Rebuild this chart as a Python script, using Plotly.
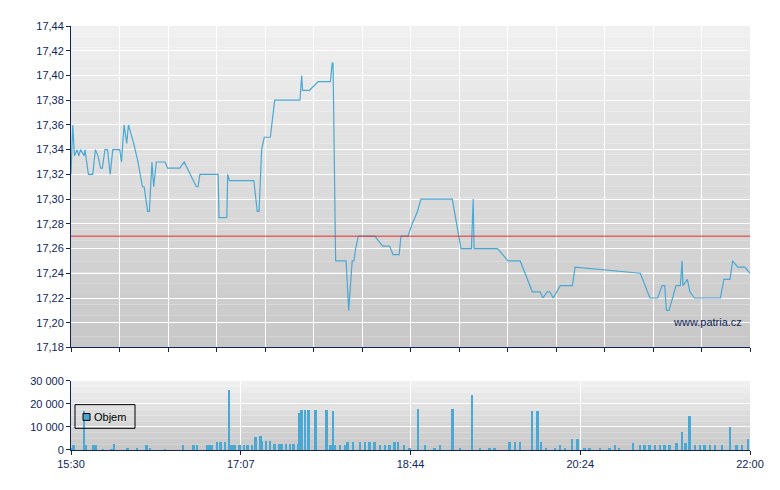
import plotly.graph_objects as go

# price: minutes after 15:30, price
p_min = [0,1,2,3.5,4.5,5.5,7.5,8,10,12.5,14,15.5,17,18,19.5,21,22.5,24,28,29,30.5,32,33,36,38.5,41,42,43,44,45,46.5,47.5,49,54,55.5,62.5,65,72,73,74,84.5,85,89.5,90,91,105,107,108,109.5,111,114.5,117,131.5,132.5,133,137,142,149,150,150.5,152,158,159.5,161.5,162.5,163.5,165,174.5,179,183,185,188.5,189.5,193.5,196,199,201,219,224,230,231,231.5,245,251,258,265,269.5,271,273.5,275,277,281,288,289.5,327,332.5,337,339.5,341,342,343.5,347.5,350,351,351.5,354,355.5,358,373,375,378.5,380,383,387,390]
p_val = [17.32,17.36,17.335,17.34,17.335,17.34,17.335,17.34,17.32,17.32,17.34,17.335,17.325,17.325,17.34,17.34,17.32,17.34,17.34,17.33,17.36,17.345,17.36,17.345,17.33,17.31,17.31,17.30,17.29,17.29,17.33,17.31,17.33,17.33,17.325,17.325,17.33,17.31,17.31,17.32,17.32,17.285,17.285,17.32,17.315,17.315,17.29,17.29,17.34,17.35,17.35,17.38,17.38,17.40,17.388,17.388,17.395,17.395,17.41,17.41,17.25,17.25,17.21,17.25,17.25,17.26,17.27,17.27,17.262,17.262,17.255,17.255,17.27,17.27,17.28,17.29,17.30,17.30,17.26,17.26,17.30,17.26,17.26,17.25,17.25,17.225,17.225,17.22,17.225,17.225,17.22,17.23,17.23,17.245,17.24,17.22,17.22,17.23,17.23,17.21,17.21,17.23,17.23,17.25,17.23,17.235,17.225,17.22,17.22,17.235,17.235,17.25,17.245,17.245,17.24]

v_min = [0.5,1.5,7.5,8.5,13,14.5,18.5,23.5,25,32.5,38,43.5,45.5,54,64.5,70.5,72.5,78.5,80,81,84,86,88.5,91,91.5,92.5,94,97,99.5,101.5,104,106,109,110,112,114.5,117,119.5,121,123.5,126,128,130.5,131.5,132.5,134.5,136.5,140.5,147,149,150,150.5,151.5,154.5,157.5,159,162,166,169,171.5,174.5,177.5,180.5,183,186,188,191.5,194.5,199.5,203.5,209,212,219,219.5,223.5,230.5,235,240.5,243.5,252,255,258,265,268,270,273,278,281,284,288,291,295,298,304,309.5,312.5,315,323,327,329.5,332.5,335.5,338.5,341,344,348,351,353,355.5,358.5,361.5,364,367,370,374,378.5,382.5,385.5,389]
v_val = [1000,2000,17000,2000,2000,2000,500,500,2500,1000,1000,2000,1000,300,2000,2000,2000,2000,2000,2000,3500,3500,3500,26000,2000,2000,2000,2000,2000,2000,2000,5500,6000,4000,4000,4000,2500,2500,2500,2500,2500,2500,2500,16000,17500,17500,17500,17500,17500,2000,2000,17000,2000,2000,2000,3500,3500,3500,3500,3500,3500,2000,2000,2000,3500,3500,2000,1000,18000,2000,1000,2000,18000,18000,1000,24000,1000,1000,1000,3500,3500,3500,17000,17000,3500,1000,1000,2000,1000,5000,5000,1000,1000,1000,1000,2000,1000,3000,2000,2000,2000,2000,2000,2000,2000,3000,8000,3000,15000,2000,2000,2000,2000,2000,2000,10000,2000,2000,5000]

ref_price = 17.27
x_labels = ["15:30", "17:07", "18:44", "20:24", "22:00"]
x_label_pos = [0, 97.5, 195, 292.5, 390]

navy = "#10265a"
blue = "#4aa8d3"
fig = go.Figure()
fig.add_trace(go.Scatter(x=p_min, y=p_val, mode="lines", line=dict(color=blue, width=1.2),
                         xaxis="x", yaxis="y", showlegend=False, hoverinfo="skip"))
fig.add_trace(go.Scatter(x=[0, 390], y=[ref_price, ref_price], mode="lines",
                         line=dict(color="#e83030", width=1), xaxis="x", yaxis="y", showlegend=False))
fig.add_trace(go.Bar(x=v_min, y=v_val, width=1.1, marker=dict(color=blue, line=dict(width=0)),
                     xaxis="x2", yaxis="y2", showlegend=False))

shapes = []
def grad(y0, y1, c0, c1, n=30):
    for i in range(n):
        t = i / (n - 1)
        c = tuple(int(c0[k] + (c1[k] - c0[k]) * t) for k in range(3))
        shapes.append(dict(type="rect", xref="paper", yref="paper", x0=0, x1=1,
                           y0=y1 - (y1 - y0) * i / n, y1=y1 - (y1 - y0) * (i + 1) / n,
                           fillcolor="rgb(%d,%d,%d)" % c, line=dict(width=0), layer="below"))
d1 = (104 / 430, 1.0)
d2 = (0.0, 70 / 430)
grad(d1[0], d1[1], (240, 240, 240), (200, 200, 200))
grad(d2[0], d2[1], (240, 240, 240), (200, 200, 200), 12)

font = dict(family="Liberation Sans, Arial", size=11, color=navy)
fig.update_layout(
    width=780, height=490, margin=dict(l=63, r=38, t=12, b=48),
    paper_bgcolor="white", plot_bgcolor="rgba(0,0,0,0)", shapes=shapes, font=font, bargap=0,
    xaxis=dict(domain=[0, 1], anchor="y", range=[0, 390], tick0=0, dtick=390/14, showticklabels=False,
               ticks="outside", ticklen=4, tickcolor=navy, showline=True, linecolor=navy,
               gridcolor="white", gridwidth=1, zeroline=False),
    yaxis=dict(domain=list(d1), range=[17.18, 17.44], dtick=0.02, tickformat=".2f",
               ticks="outside", ticklen=4, tickcolor=navy, showline=True, linecolor=navy,
               gridcolor="white", zeroline=False),
    xaxis2=dict(domain=[0, 1], anchor="y2", range=[0, 390], tickvals=x_label_pos, ticktext=x_labels,
                ticks="outside", ticklen=4, tickcolor=navy, showline=True, linecolor=navy,
                gridcolor="white", zeroline=False),
    yaxis2=dict(domain=list(d2), range=[0, 30000], tickvals=[0, 10000, 20000, 30000],
                ticktext=["0", "10 000", "20 000", "30 000"],
                ticks="outside", ticklen=4, tickcolor=navy, showline=True, linecolor=navy,
                gridcolor="white", zeroline=False),
    separators=", ",
)
fig.add_annotation(x=1, y=d1[0] + 0.04, xref="paper", yref="paper", xanchor="right", xshift=-6,
                   text="www.patria.cz", showarrow=False, font=dict(size=11, color=navy))
# legend box
fig.add_shape(type="rect", xref="paper", yref="paper", x0=4/679, x1=64/679,
              y0=(450-428)/430, y1=(450-404)/430, line=dict(color="black", width=1), fillcolor="rgba(0,0,0,0)")
fig.add_shape(type="rect", xref="paper", yref="paper", x0=12/679, x1=19/679,
              y0=(450-420)/430, y1=(450-413)/430, line=dict(color="black", width=1), fillcolor=blue)
fig.add_annotation(x=21/679, y=(450-416.5)/430, xref="paper", yref="paper", xanchor="left", yanchor="middle",
                   text="Objem", showarrow=False, font=dict(size=11, color="black"))
fig.write_html("out.html")
